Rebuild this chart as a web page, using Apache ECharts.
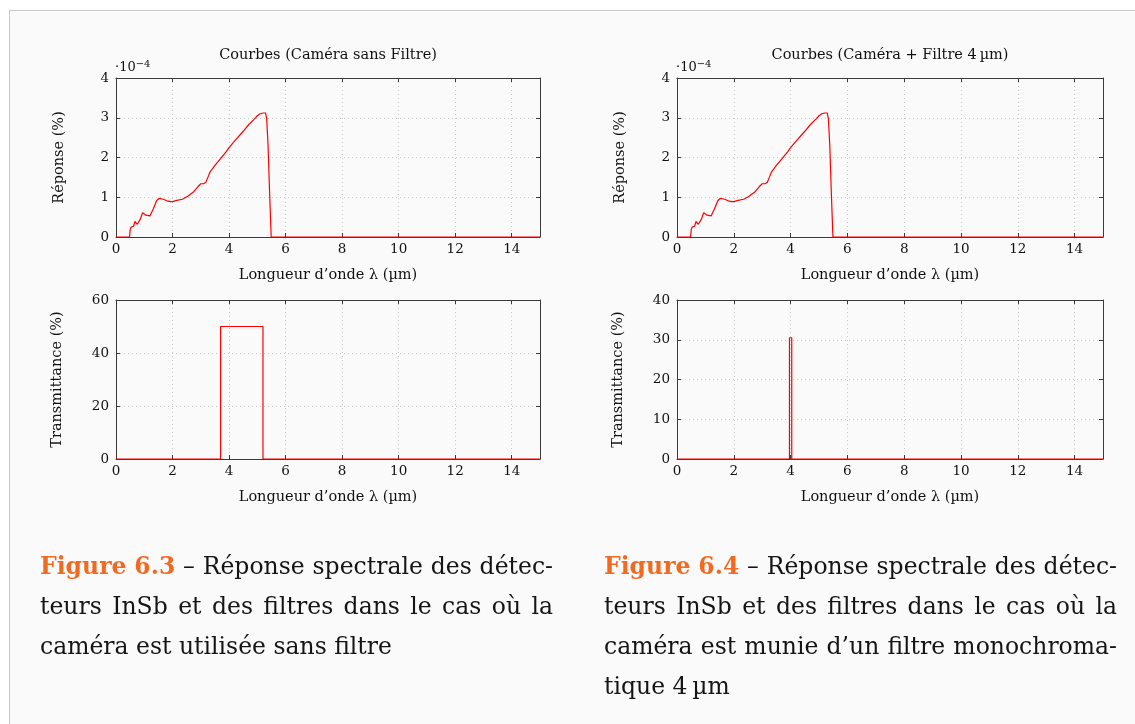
<!DOCTYPE html>
<html><head><meta charset="utf-8">
<script src="https://cdn.jsdelivr.net/npm/echarts@6.0.0/dist/echarts.min.js"></script>
<style>
html,body{margin:0;padding:0;background:#fff;width:1135px;height:724px;overflow:hidden;}
#frame{position:absolute;left:9px;top:10px;width:1140px;height:730px;border:1px solid #c8c8c8;background:#fafafa;}
#c{position:absolute;left:0;top:0;width:1135px;height:724px;}
</style></head>
<body><div id="frame"></div><div id="c"></div>
<script>
// ---- data (response in units of 1e-4 %) ----
const wavelengthUm = [0,0.48,0.5,0.53,0.57,0.62,0.67,0.71,0.75,0.8,0.86,0.94,1.0,1.06,1.12,1.2,1.32,1.44,1.52,1.58,1.68,1.8,1.92,2.0,2.15,2.35,2.55,2.75,2.9,3.0,3.1,3.18,3.25,3.33,3.5,3.7,3.9,4.0,4.2,4.5,4.7,4.9,5.0,5.1,5.17,5.21,5.25,5.29,5.33,5.38,5.43,5.49,15];
const responseE4   = [0,0,0.18,0.25,0.21,0.27,0.39,0.34,0.32,0.36,0.45,0.61,0.6,0.55,0.5,0.53,0.71,0.92,0.97,0.98,0.95,0.91,0.89,0.89,0.92,0.95,1.03,1.14,1.27,1.34,1.34,1.38,1.5,1.64,1.8,1.97,2.15,2.25,2.42,2.66,2.83,2.97,3.05,3.1,3.09,3.12,3.16,3.12,2.98,2.3,1.2,0,0];
const filterAWl = [0,3.7,3.7,5.2,5.2,15];
const filterAT  = [0,0,50,50,0,0];
const filterBWl = [0,3.96,3.96,4.04,4.04,15];
const filterBT  = [0,0,30.5,30.5,0,0];
const xRange = {min:0, max:15, interval:2};
const yRespRange = {min:0, max:4, interval:1};
const yFiltARange = {min:0, max:60, interval:20};
const yFiltBRange = {min:0, max:40, interval:10};
const titleA = 'Courbes (Caméra sans Filtre)';
const titleB = 'Courbes (Caméra + Filtre 4\u2009µm)';
const xName = 'Longueur d\u2019onde \u03bb (µm)';
const yRespName = 'Réponse (%)';
const yFiltName = 'Transmittance (%)';
const captionLabelA = 'Figure 6.3';
const captionLinesA = ['\u2013 Réponse spectrale des détec-', 'teurs InSb et des filtres dans le cas où la', 'caméra est utilisée sans filtre'];
const captionLabelB = 'Figure 6.4';
const captionLinesB = ['\u2013 Réponse spectrale des détec-', 'teurs InSb et des filtres dans le cas où la', 'caméra est munie d\u2019un filtre monochroma-', 'tique 4\u2009µm'];

const FONT = '"DejaVu Serif", "Liberation Serif", serif';
const FRAME = '#3a3a3a';
const RED = '#ff0000';
const TXT = '#111';
const CAPTXT = '#151515';
const ORANGE = '#f26a21';

const grids = [
  {left:116, top:78, width:424, height:159},
  {left:116, top:300, width:424, height:159},
  {left:677, top:78, width:426, height:159},
  {left:677, top:300, width:426, height:159}
];
const yRanges = [yRespRange, yFiltARange, yRespRange, yFiltBRange];
const yNames = [yRespName, yFiltName, yRespName, yFiltName];

const xAxes = [], yAxes = [];
const mirrorLine = {show:true, onZero:false, lineStyle:{color:FRAME, width:1}};
const tick = {show:true, inside:true, length:4, lineStyle:{color:FRAME}};
grids.forEach((g, i) => {
  xAxes.push({
    type:'value', gridIndex:i, position:'bottom', min:xRange.min, max:xRange.max, interval:xRange.interval,
    name:xName, nameLocation:'middle', nameGap:31,
    nameTextStyle:{fontFamily:FONT, fontSize:14.5, color:TXT},
    axisLine:{show:true, onZero:false, lineStyle:{color:FRAME, width:1}},
    axisTick:tick,
    axisLabel:{fontFamily:FONT, fontSize:13.5, color:TXT, margin:5, showMaxLabel:false},
    splitLine:{show:true, lineStyle:{color:'#c8c8c8', type:[1,3], width:1}}
  });
  xAxes.push({
    type:'value', gridIndex:i, position:'top', min:xRange.min, max:xRange.max, interval:xRange.interval,
    axisLine:mirrorLine, axisTick:tick, axisLabel:{show:false}, splitLine:{show:false}
  });
  const yr = yRanges[i];
  yAxes.push({
    type:'value', gridIndex:i, position:'left', min:yr.min, max:yr.max, interval:yr.interval,
    name:yNames[i], nameLocation:'middle', nameGap:i % 2 === 0 ? 49 : 51, nameRotate:90,
    nameTextStyle:{fontFamily:FONT, fontSize:14.5, color:TXT},
    axisLine:{show:true, onZero:false, lineStyle:{color:FRAME, width:1}},
    axisTick:tick,
    axisLabel:{fontFamily:FONT, fontSize:13.5, color:TXT, margin:7},
    splitLine:{show:true, lineStyle:{color:'#c8c8c8', type:[1,3], width:1}}
  });
  yAxes.push({
    type:'value', gridIndex:i, position:'right', min:yr.min, max:yr.max, interval:yr.interval,
    axisLine:mirrorLine, axisTick:tick, axisLabel:{show:false}, splitLine:{show:false}
  });
});

function pairs(xs, ys){ return xs.map((x, k) => [x, ys[k]]); }
const lineBase = {type:'line', symbol:'none', smooth:false, lineStyle:{color:RED, width:1.2}, itemStyle:{color:RED}, animation:false, z:5};
const series = [
  Object.assign({}, lineBase, {xAxisIndex:0, yAxisIndex:0, data:pairs(wavelengthUm, responseE4)}),
  Object.assign({}, lineBase, {xAxisIndex:2, yAxisIndex:2, data:pairs(filterAWl, filterAT)}),
  Object.assign({}, lineBase, {xAxisIndex:4, yAxisIndex:4, data:pairs(wavelengthUm, responseE4)}),
  Object.assign({}, lineBase, {xAxisIndex:6, yAxisIndex:6, data:pairs(filterBWl, filterBT)})
];

// caption layout (font size fitted, lines justified like the typeset original)
const cv = document.createElement('canvas').getContext('2d');
function measure(t, bold, size){ cv.font = (bold ? 'bold ' : '') + size + 'px ' + FONT; return cv.measureText(t).width; }
const CS = Math.round(100 * 512 / (measure(captionLabelA, true, 100) + measure(' ' + captionLinesA[0], false, 100)) * 10) / 10;
function lineWords(label, text){
  const w = [];
  if (label) label.split(' ').forEach(s => w.push({t:s, b:true}));
  text.split(' ').forEach(s => w.push({t:s, b:false}));
  return w;
}
function placeLine(words, x0, x1, y, justify){
  const widths = words.map(o => measure(o.t, o.b, CS));
  const total = widths.reduce((a, b) => a + b, 0);
  const natural = measure(' ', false, CS);
  const gap = justify && words.length > 1 ? (x1 - x0 - total) / (words.length - 1) : natural;
  const els = []; let x = x0;
  words.forEach((o, k) => {
    els.push({type:'text', x:x, y:y, style:{text:o.t, fontFamily:FONT, fontSize:CS, fontWeight:o.b ? 'bold' : 'normal', fill:o.b ? ORANGE : CAPTXT, verticalAlign:'middle'}});
    x += widths[k] + gap;
  });
  return els;
}
function captionEls(label, lines, x0, x1){
  const ys = [568, 608, 648, 688];
  let els = [];
  lines.forEach((ln, k) => {
    const words = lineWords(k === 0 ? label : null, ln);
    els = els.concat(placeLine(words, x0, x1, ys[k], k < lines.length - 1));
  });
  return els;
}
function expEl(x){
  return {type:'text', x:x, y:68, style:{text:'{a|\u00b710}{b|\u22124}', verticalAlign:'middle',
    rich:{a:{fontFamily:FONT, fontSize:13, fill:TXT}, b:{fontFamily:FONT, fontSize:10, fill:TXT, padding:[0,0,8,0]}}}};
}
const graphics = [
  {type:'text', x:328, y:55, style:{text:titleA, fontFamily:FONT, fontSize:14.5, fill:TXT, align:'center', verticalAlign:'middle'}},
  {type:'text', x:890, y:55, style:{text:titleB, fontFamily:FONT, fontSize:14.5, fill:TXT, align:'center', verticalAlign:'middle'}},
  expEl(115), expEl(676)
].concat(captionEls(captionLabelA, captionLinesA, 40, 553), captionEls(captionLabelB, captionLinesB, 604, 1117));

const chart = echarts.init(document.getElementById('c'), null, {renderer:'canvas'});
chart.setOption({
  backgroundColor:'transparent', animation:false,
  grid:grids.map(g => Object.assign({show:false, containLabel:false}, g)),
  xAxis:xAxes, yAxis:yAxes, series:series, graphic:graphics
});
</script>
</body></html>
